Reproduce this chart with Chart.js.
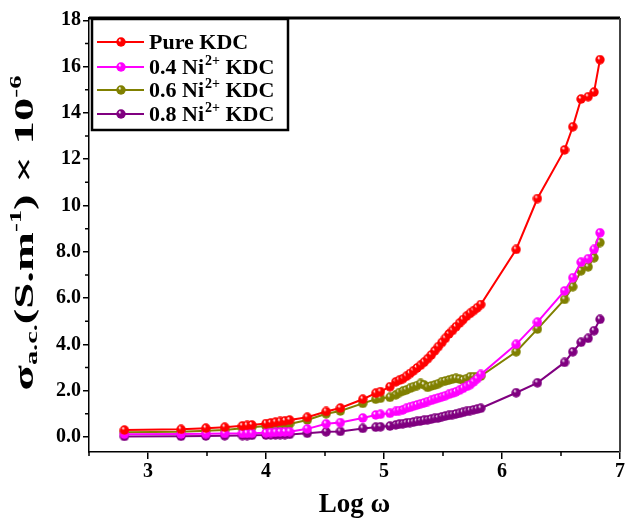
<!DOCTYPE html>
<html>
<head>
<meta charset="utf-8">
<script src="https://cdn.jsdelivr.net/npm/chart.js@4.4.1/dist/chart.umd.min.js"></script>
<style>
  html, body { margin: 0; padding: 0; background: #fff; }
  #wrap { width: 629px; height: 521px; }
</style>
</head>
<body>
<div id="wrap"><canvas id="chart" width="629" height="521"></canvas></div>
<script>
// Log of angular frequency, shared by all four samples
const logW = [
    2.80, 3.28, 3.49, 3.65, 3.80, 3.84, 3.88, 4.00, 4.04, 4.08, 4.12, 4.16, 4.20,
    4.35, 4.51, 4.63, 4.82, 4.93, 4.97, 5.05,
    5.10, 5.13, 5.16, 5.19, 5.22, 5.25, 5.28, 5.31, 5.34, 5.37, 5.40, 5.43, 5.46,
    5.49, 5.52, 5.55, 5.58, 5.61, 5.64, 5.67, 5.70, 5.73, 5.76, 5.79, 5.82,
    6.12, 6.30, 6.53, 6.60, 6.67, 6.73, 6.78, 6.83
];

// sigma a.c. (x 10^-6 S/m)
const pureKDC = [
    0.30, 0.33, 0.38, 0.42, 0.48, 0.50, 0.52, 0.58, 0.61, 0.64, 0.67, 0.70, 0.73,
    0.85, 1.10, 1.25, 1.63, 1.89, 1.96, 2.17,
    2.38, 2.45, 2.52, 2.62, 2.74, 2.86, 2.98, 3.10, 3.23, 3.38, 3.54, 3.72, 3.90,
    4.08, 4.26, 4.45, 4.60, 4.76, 4.92, 5.07, 5.22, 5.34, 5.46, 5.58, 5.72,
    8.10, 10.3, 12.4, 13.4, 14.6, 14.7, 14.9, 16.3
];
const ni04KDC = [
    0.12, 0.13, 0.14, 0.15, 0.15, 0.16, 0.16, 0.18, 0.19, 0.20, 0.21, 0.22, 0.23,
    0.35, 0.57, 0.62, 0.82, 0.95, 0.98, 1.02,
    1.10, 1.14, 1.17, 1.24, 1.28, 1.33, 1.38, 1.43, 1.47, 1.53, 1.58, 1.63, 1.68,
    1.73, 1.78, 1.84, 1.89, 1.95, 2.02, 2.10, 2.18, 2.26, 2.38, 2.52, 2.70,
    4.00, 4.96, 6.31, 6.88, 7.55, 7.70, 8.10, 8.82
];
const ni06KDC = [
    0.20, 0.23, 0.27, 0.30, 0.38, 0.40, 0.42, 0.47, 0.49, 0.50, 0.52, 0.54, 0.56,
    0.73, 1.00, 1.12, 1.45, 1.63, 1.67, 1.71,
    1.82, 1.92, 1.98, 2.03, 2.10, 2.17, 2.22, 2.31, 2.25, 2.14, 2.20, 2.24, 2.30,
    2.39, 2.42, 2.46, 2.50, 2.53, 2.50, 2.46, 2.52, 2.60, 2.60, 2.60, 2.63,
    3.68, 4.66, 5.94, 6.49, 7.18, 7.35, 7.74, 8.40
];
const ni08KDC = [
    0.02, 0.03, 0.04, 0.05, 0.06, 0.06, 0.07, 0.08, 0.09, 0.09, 0.10, 0.10, 0.11,
    0.16, 0.22, 0.24, 0.37, 0.42, 0.44, 0.47,
    0.52, 0.55, 0.57, 0.60, 0.62, 0.64, 0.67, 0.69, 0.72, 0.74, 0.77, 0.80, 0.82,
    0.87, 0.90, 0.93, 0.96, 0.99, 1.02, 1.06, 1.10, 1.14, 1.17, 1.20, 1.24,
    1.91, 2.34, 3.22, 3.68, 4.09, 4.26, 4.59, 5.08
];

// Axis ticks
const xTicks = [3, 4, 5, 6, 7];
const xMinor = [2.5, 3.5, 4.5, 5.5, 6.5];
const yTicks = [0, 2, 4, 6, 8, 10, 12, 14, 16, 18];
const yMinor = [1, 3, 5, 7, 9, 11, 13, 15, 17];

const seriesNames = ['Pure KDC', '0.4 Ni', '0.6 Ni', '0.8 Ni'];
const seriesColors = ['#ff0000', '#ff00ff', '#808000', '#800080'];

const SERIF = '"Liberation Serif", "Times New Roman", serif';

// Small shaded ball used as marker
function makeBall(color, size) {
    const c = document.createElement('canvas');
    c.width = size;
    c.height = size;
    const g = c.getContext('2d');
    const r = size / 2;
    const grad = g.createRadialGradient(r * 0.7, r * 0.6, 0.3, r, r, r);
    grad.addColorStop(0, '#ffffff');
    grad.addColorStop(0.3, color);
    grad.addColorStop(1, color);
    g.fillStyle = grad;
    g.beginPath();
    g.arc(r, r, r - 0.3, 0, Math.PI * 2);
    g.fill();
    return c;
}

const balls = seriesColors.map(c => makeBall(c, 10));

function buildData(values) {
    return logW.map((x, i) => ({ x: x, y: values[i] }));
}

// Frame, minor ticks, legend and axis titles
const decorPlugin = {
    id: 'decor',
    afterDraw(chart) {
        const ctx = chart.ctx;
        const area = chart.chartArea;
        const xs = chart.scales.x;
        const ys = chart.scales.y;
        ctx.save();

        // top and right frame
        ctx.strokeStyle = '#000';
        ctx.lineWidth = 3;
        ctx.beginPath();
        ctx.moveTo(area.left, area.top);
        ctx.lineTo(area.right, area.top);
        ctx.stroke();
        ctx.strokeStyle = '#444';
        ctx.lineWidth = 2;
        ctx.beginPath();
        ctx.moveTo(area.right, area.top);
        ctx.lineTo(area.right, area.bottom);
        ctx.stroke();

        // minor ticks
        ctx.strokeStyle = '#000';
        ctx.lineWidth = 1.5;
        ctx.beginPath();
        xMinor.forEach(v => {
            const px = xs.getPixelForValue(v);
            ctx.moveTo(px, area.bottom);
            ctx.lineTo(px, area.bottom + 4);
        });
        yMinor.forEach(v => {
            const py = ys.getPixelForValue(v);
            ctx.moveTo(area.left, py);
            ctx.lineTo(area.left - 4, py);
        });
        ctx.stroke();

        // legend box
        const lx = area.left + 3, ly = area.top + 1;
        ctx.strokeStyle = '#000';
        ctx.lineWidth = 2.5;
        ctx.strokeRect(lx, ly, 196, 111);
        const rowY = [42, 67, 90, 114];
        seriesNames.forEach((name, i) => {
            const y = rowY[i];
            ctx.strokeStyle = seriesColors[i];
            ctx.lineWidth = 2;
            ctx.beginPath();
            ctx.moveTo(lx + 5, y);
            ctx.lineTo(lx + 52, y);
            ctx.stroke();
            ctx.drawImage(balls[i], lx + 24, y - 5);
            ctx.fillStyle = '#000';
            ctx.textBaseline = 'middle';
            ctx.textAlign = 'left';
            ctx.font = 'bold 22px ' + SERIF;
            let tx = lx + 57;
            ctx.fillText(name, tx, y + 1);
            if (i > 0) {
                tx += ctx.measureText(name).width;
                ctx.font = 'bold 14px ' + SERIF;
                ctx.fillText('2+', tx + 1, y - 6);
                tx += ctx.measureText('2+').width + 1;
                ctx.font = 'bold 22px ' + SERIF;
                ctx.fillText(' KDC', tx, y + 1);
            }
        });

        // x title
        ctx.fillStyle = '#000';
        ctx.font = 'bold 27px ' + SERIF;
        ctx.textAlign = 'center';
        ctx.textBaseline = 'middle';
        ctx.fillText('Log \u03c9', (area.left + area.right) / 2, 505);

        // y title, built from pieces with sub/superscripts, stretched along its length
        const parts = [
            { t: '\u03c3', size: 28, dy: 0 },
            { t: 'a.c.', size: 17, dy: 7 },
            { t: '(S.m', size: 28, dy: 0 },
            { t: '-1', size: 16, dy: -9 },
            { t: ') \u00d7 10', size: 28, dy: 0 },
            { t: '-6', size: 16, dy: -9 }
        ];
        let total = 0;
        parts.forEach(p => {
            ctx.font = 'bold ' + p.size + 'px ' + SERIF;
            p.w = ctx.measureText(p.t).width;
            total += p.w;
        });
        const stretch = 315 / total;
        ctx.translate(26, 233);
        ctx.rotate(-Math.PI / 2);
        ctx.scale(stretch, 1);
        ctx.textAlign = 'left';
        let cx = -total / 2;
        parts.forEach(p => {
            ctx.font = 'bold ' + p.size + 'px ' + SERIF;
            ctx.fillText(p.t, cx, p.dy);
            cx += p.w;
        });

        ctx.restore();
    }
};

const tickFont = { family: SERIF, size: 20, weight: 'bold' };

new Chart(document.getElementById('chart'), {
    type: 'line',
    data: {
        datasets: [pureKDC, ni04KDC, ni06KDC, ni08KDC].map((vals, i) => ({
            label: seriesNames[i],
            data: buildData(vals),
            borderColor: seriesColors[i],
            backgroundColor: seriesColors[i],
            borderWidth: 2,
            pointStyle: balls[i],
            pointRadius: 5,
            tension: 0,
            fill: false
        }))
    },
    options: {
        responsive: false,
        animation: false,
        layout: { padding: { top: 18, right: 9, left: 0, bottom: 0 } },
        plugins: {
            legend: { display: false },
            tooltip: { enabled: false }
        },
        scales: {
            x: {
                type: 'linear',
                min: 2.5,
                max: 7,
                afterBuildTicks: scale => { scale.ticks = xTicks.map(v => ({ value: v })); },
                afterFit: scale => { scale.height = 69; },
                ticks: {
                    font: tickFont,
                    color: '#000',
                    padding: 1,
                    maxRotation: 0,
                    callback: v => String(v)
                },
                grid: { drawOnChartArea: false, tickLength: 7, color: '#000', lineWidth: 1.5 },
                border: { color: '#000', width: 1.5 }
            },
            y: {
                min: -0.65,
                max: 18.1,
                afterBuildTicks: scale => { scale.ticks = yTicks.map(v => ({ value: v })); },
                afterFit: scale => { scale.width = 89; },
                ticks: {
                    font: tickFont,
                    color: '#000',
                    padding: 2,
                    callback: v => (v >= 10 ? String(v) : v.toFixed(1))
                },
                grid: { drawOnChartArea: false, tickLength: 6, color: '#000', lineWidth: 1.5 },
                border: { color: '#000', width: 1.5 }
            }
        }
    },
    plugins: [decorPlugin]
});
</script>
</body>
</html>
